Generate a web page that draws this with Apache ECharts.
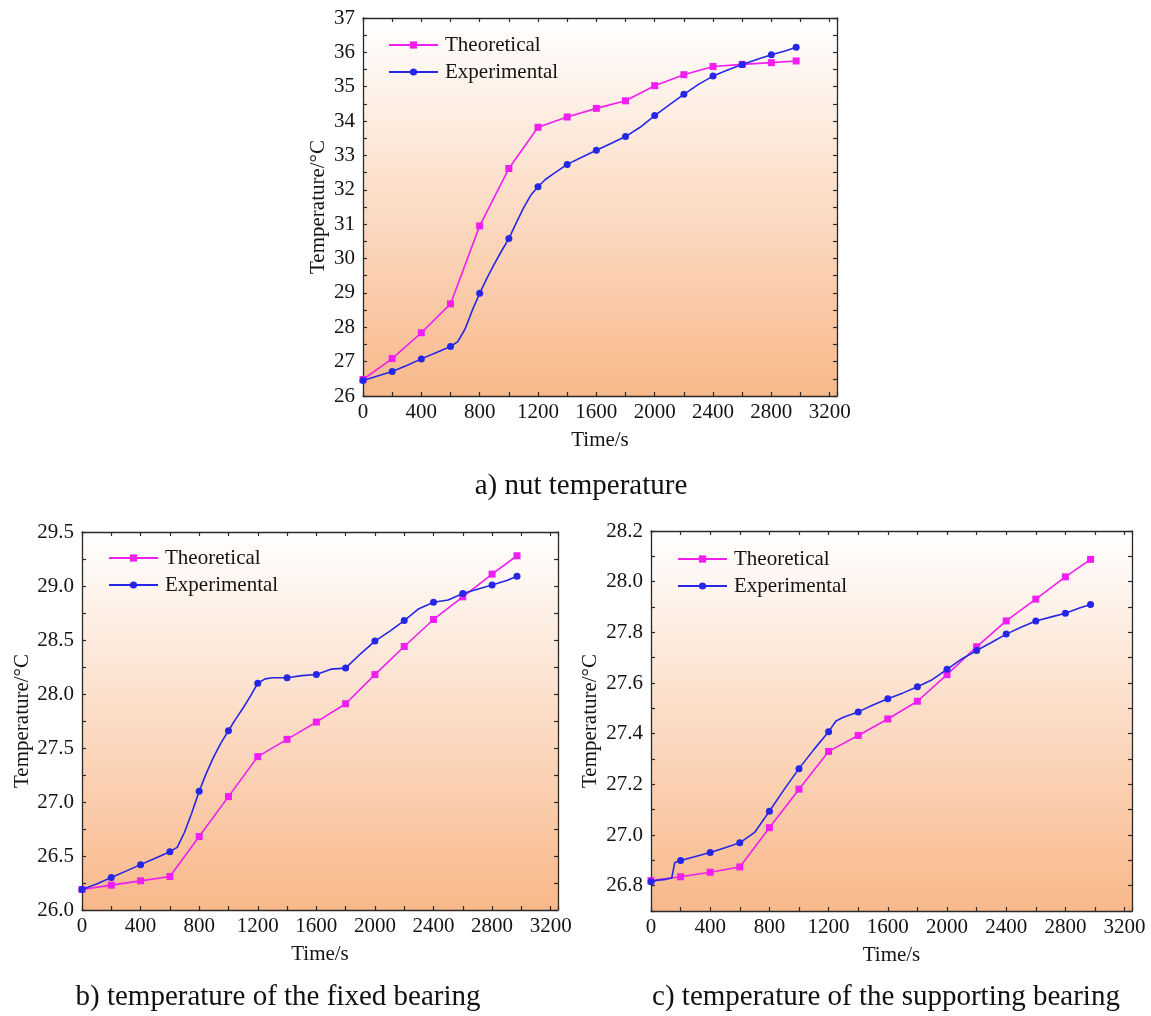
<!DOCTYPE html>
<html>
<head>
<meta charset="utf-8">
<script src="https://cdn.jsdelivr.net/npm/echarts@6/dist/echarts.min.js"></script>
<style>
html,body{margin:0;padding:0;background:#ffffff;}
#chart{width:1151px;height:1016px;}
</style>
</head>
<body>
<div id="chart"></div>
<script>
// ---------- data ----------
const seriesNames = ['Theoretical', 'Experimental'];
const xTickLabels = [0, 400, 800, 1200, 1600, 2000, 2400, 2800, 3200];
const captions = ['a) nut temperature', 'b) temperature of the fixed bearing', 'c) temperature of the supporting bearing'];

// theoretical points (time, s)
const theoTime = [0, 200, 400, 600, 800, 1000, 1200, 1400, 1600, 1800, 2000, 2200, 2400, 2600, 2800, 2970];
// a) nut
const nutTheo = [26.48, 27.09, 27.84, 28.68, 30.95, 32.62, 33.82, 34.12, 34.37, 34.59, 35.03, 35.35, 35.59, 35.65, 35.70, 35.75];
const nutExpTime = [0, 100, 200, 300, 400, 500, 600, 650, 700, 750, 800, 850, 900, 950, 1000, 1050, 1100, 1150, 1200, 1250, 1300, 1400, 1500, 1600, 1700, 1800, 1900, 2000, 2100, 2200, 2300, 2400, 2500, 2600, 2700, 2800, 2900, 2970];
const nutExp = [26.45, 26.58, 26.71, 26.89, 27.08, 27.26, 27.44, 27.58, 27.95, 28.50, 28.99, 29.43, 29.84, 30.22, 30.58, 31.03, 31.47, 31.84, 32.09, 32.30, 32.45, 32.74, 32.95, 33.15, 33.35, 33.55, 33.82, 34.16, 34.47, 34.78, 35.07, 35.31, 35.49, 35.65, 35.79, 35.93, 36.05, 36.15];

// b) fixed bearing
const fixTheo = [26.19, 26.23, 26.27, 26.31, 26.68, 27.05, 27.42, 27.58, 27.74, 27.91, 28.18, 28.44, 28.69, 28.90, 29.11, 29.28];
const fixExpTime = [0, 100, 200, 300, 400, 500, 600, 650, 700, 750, 800, 850, 900, 950, 1000, 1050, 1100, 1150, 1200, 1250, 1300, 1400, 1500, 1600, 1700, 1800, 1900, 2000, 2100, 2200, 2300, 2400, 2500, 2600, 2700, 2800, 2900, 2970];
const fixExp = [26.19, 26.24, 26.30, 26.36, 26.42, 26.48, 26.54, 26.58, 26.72, 26.90, 27.10, 27.27, 27.42, 27.55, 27.66, 27.77, 27.87, 27.98, 28.10, 28.14, 28.15, 28.15, 28.17, 28.18, 28.23, 28.24, 28.37, 28.49, 28.58, 28.68, 28.79, 28.85, 28.87, 28.93, 28.97, 29.01, 29.05, 29.09];

// c) supporting bearing
const supTheo = [26.82, 26.835, 26.853, 26.874, 27.029, 27.181, 27.330, 27.393, 27.458, 27.528, 27.633, 27.743, 27.845, 27.931, 28.019, 28.088];
const supExpTime = [0, 50, 100, 140, 160, 200, 300, 400, 500, 600, 700, 800, 900, 1000, 1100, 1200, 1250, 1300, 1400, 1500, 1600, 1700, 1800, 1900, 2000, 2100, 2200, 2300, 2400, 2500, 2600, 2700, 2800, 2900, 2970];
const supExp = [26.815, 26.822, 26.825, 26.83, 26.89, 26.899, 26.915, 26.931, 26.95, 26.969, 27.01, 27.094, 27.18, 27.262, 27.337, 27.408, 27.45, 27.465, 27.486, 27.513, 27.538, 27.56, 27.585, 27.613, 27.654, 27.695, 27.728, 27.76, 27.793, 27.82, 27.845, 27.86, 27.875, 27.897, 27.91];

// marker times on the experimental curves
const markerTimes = [0, 200, 400, 600, 800, 1000, 1200, 1400, 1600, 1800, 2000, 2200, 2400, 2600, 2800, 2970];

// y axis ranges
const yRanges = [
  {min: 26, max: 37, step: 0.5, labelEvery: 1, dec: 0},
  {min: 26, max: 29.5, step: 0.25, labelEvery: 0.5, dec: 1},
  {min: 26.7, max: 28.2, step: 0.1, labelEvery: 0.2, dec: 1}
];

// ---------- layout / styles ----------
const FONT = '"Liberation Serif", "Times New Roman", serif';
const TEXT = '#141414';
const AXIS = '#2a2a2a';
const PINK = '#F01EF0';
const BLUE = '#2626E8';

const grids = [
  {left: 363, top: 18, width: 474, height: 378},
  {left: 82, top: 532, width: 476, height: 378},
  {left: 651, top: 531, width: 481, height: 380}
];
const yNameGaps = [34, 49, 50];
const legendPos = [
  {left: 388, top: 34},
  {left: 108, top: 547},
  {left: 677, top: 548}
];

const bg = new echarts.graphic.LinearGradient(0, 0, 0, 1, [
  {offset: 0, color: '#FFFFFF'},
  {offset: 1, color: '#F8B88A'}
]);

function pairs(xs, ys) { return xs.map((x, i) => [x, ys[i]]); }

const option = {
  backgroundColor: '#ffffff',
  animation: false,
  grid: grids.map(g => Object.assign({show: true, borderWidth: 0, backgroundColor: bg}, g)),
  legend: legendPos.map((p, i) => ({
    data: seriesNames,
    orient: 'vertical',
    left: p.left, top: p.top, padding: 0,
    itemWidth: 49, itemHeight: 9, itemGap: 5,
    selectedMode: false,
    textStyle: {fontFamily: FONT, fontSize: 21, color: TEXT, lineHeight: 22, padding: [0, 0, 0, 2]}
  })),
  xAxis: [],
  yAxis: [],
  series: [],
  graphic: []
};

const tickStyle = {color: AXIS, width: 1.2};
for (let i = 0; i < 3; i++) {
  const yr = yRanges[i];
  // bottom x
  option.xAxis.push({
    gridIndex: i, type: 'value', min: 0, max: 3250, interval: 200, position: 'bottom',
    axisLine: {show: true, onZero: false, lineStyle: {color: AXIS, width: 1.3}},
    axisTick: {show: true, inside: true, length: 4, lineStyle: tickStyle},
    splitLine: {show: false},
    axisLabel: {
      fontFamily: FONT, fontSize: 21, color: TEXT, margin: 6,
      formatter: v => (xTickLabels.indexOf(Math.round(v)) >= 0 && Math.abs(v - Math.round(v)) < 1e-6) ? String(Math.round(v)) : ''
    },
    name: 'Time/s', nameLocation: 'middle', nameGap: 34,
    nameTextStyle: {fontFamily: FONT, fontSize: 21, color: TEXT}
  });
  // top mirror x
  option.xAxis.push({
    gridIndex: i, type: 'value', min: 0, max: 3250, interval: 200, position: 'top',
    axisLine: {show: true, onZero: false, lineStyle: {color: AXIS, width: 1.3}},
    axisTick: {show: true, inside: true, length: 4, lineStyle: tickStyle},
    splitLine: {show: false}, axisLabel: {show: false}
  });
  // left y
  option.yAxis.push({
    gridIndex: i, type: 'value', min: yr.min, max: yr.max, interval: yr.step, position: 'left',
    axisLine: {show: true, onZero: false, lineStyle: {color: AXIS, width: 1.3}},
    axisTick: {show: true, inside: true, length: 4, lineStyle: tickStyle},
    splitLine: {show: false},
    axisLabel: {
      fontFamily: FONT, fontSize: 21, color: TEXT, margin: 8,
      formatter: v => {
        const r = Math.round(v / yr.labelEvery);
        return Math.abs(v / yr.labelEvery - r) < 1e-6 ? v.toFixed(yr.dec) : '';
      }
    },
    name: 'Temperature/°C', nameLocation: 'middle', nameGap: yNameGaps[i],
    nameTextStyle: {fontFamily: FONT, fontSize: 21, color: TEXT}
  });
  // right mirror y
  option.yAxis.push({
    gridIndex: i, type: 'value', min: yr.min, max: yr.max, interval: yr.step, position: 'right',
    axisLine: {show: true, onZero: false, lineStyle: {color: AXIS, width: 1.3}},
    axisTick: {show: true, inside: true, length: 4, lineStyle: tickStyle},
    splitLine: {show: false}, axisLabel: {show: false}
  });
}

const theoSets = [nutTheo, fixTheo, supTheo];
const expSets = [[nutExpTime, nutExp], [fixExpTime, fixExp], [supExpTime, supExp]];
for (let i = 0; i < 3; i++) {
  option.series.push({
    name: 'Theoretical', type: 'line', xAxisIndex: i * 2, yAxisIndex: i * 2,
    data: pairs(theoTime, theoSets[i]),
    symbol: 'rect', symbolSize: 7, showAllSymbol: true,
    itemStyle: {color: PINK}, lineStyle: {color: PINK, width: 1.6},
    z: 2
  });
  option.series.push({
    name: 'Experimental', type: 'line', xAxisIndex: i * 2, yAxisIndex: i * 2,
    data: pairs(expSets[i][0], expSets[i][1]),
    symbol: 'circle', showAllSymbol: true,
    symbolSize: v => (markerTimes.indexOf(v[0]) >= 0 ? 7 : 0),
    itemStyle: {color: BLUE}, lineStyle: {color: BLUE, width: 1.6},
    z: 3
  });
}

const capPos = [[581, 486], [278, 997], [886, 997]];
captions.forEach((t, i) => {
  option.graphic.push({
    type: 'text', x: capPos[i][0], y: capPos[i][1],
    style: {text: t, font: '29px ' + FONT, fill: '#111', textAlign: 'center', textVerticalAlign: 'middle'}
  });
});

const chart = echarts.init(document.getElementById('chart'), null, {renderer: 'canvas'});
chart.setOption(option);
</script>
</body>
</html>
